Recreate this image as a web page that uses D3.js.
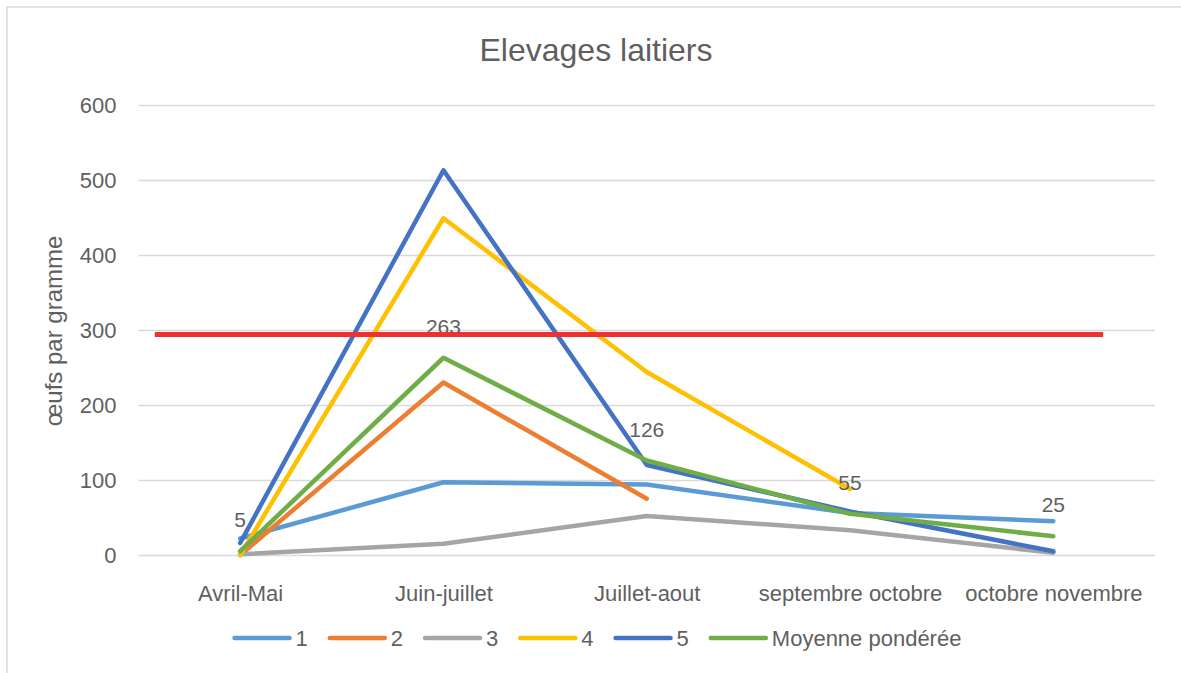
<!DOCTYPE html>
<html>
<head>
<meta charset="utf-8">
<script src="https://cdn.jsdelivr.net/npm/d3@7"></script>
<style>
  body { margin: 0; background: #fff; }
  text { font-family: "Liberation Sans", Arial, sans-serif; fill: #5f5f5f; }
</style>
</head>
<body>
<svg width="1181" height="673"></svg>
<script>
// donnees
const periodes = ['Avril-Mai', 'Juin-juillet', 'Juillet-aout', 'septembre octobre', 'octobre novembre'];
const yTicks = [0, 100, 200, 300, 400, 500, 600];

const serie1 = [22, 97, 94, 56, 45];
const serie2 = [0, 230, 75, null, null];
const serie3 = [1, 15, 52, 33, 3];
const serie4 = [0, 449, 244, 88, null];
const serie5 = [16, 513, 120, 58, 5];
const moyenne = [5, 263, 126, 55, 25];
const moyenneLabels = ['5', '263', '126', '55', '25'];

const seuil = 294;            // ligne rouge
const seuilDebut = -0.42;     // en unites de categorie
const seuilFin = 4.245;

const series = [
  {name: '1', values: serie1, color: '#5B9BD5'},
  {name: '2', values: serie2, color: '#ED7D31'},
  {name: '3', values: serie3, color: '#A5A5A5'},
  {name: '4', values: serie4, color: '#FFC000'},
  {name: '5', values: serie5, color: '#4472C4'},
  {name: 'Moyenne pondérée', values: moyenne, color: '#70AD47'}
];

const svg = d3.select('svg');

// cadre du graphique
svg.append('line').attr('x1', 7).attr('y1', 7).attr('x2', 1181).attr('y2', 7)
  .attr('stroke', '#D9D9D9').attr('stroke-width', 1.5);
svg.append('line').attr('x1', 7).attr('y1', 7).attr('x2', 7).attr('y2', 673)
  .attr('stroke', '#D9D9D9').attr('stroke-width', 1.5);

const plotLeft = 138.5, plotRight = 1155, plotTop = 105, plotBottom = 555;

const xScale = d3.scalePoint().domain(periodes).range([plotLeft, plotRight]).padding(0.5);
const xIndex = d3.scaleLinear().domain([-0.5, periodes.length - 0.5]).range([plotLeft, plotRight]);
const yScale = d3.scaleLinear().domain([0, 600]).range([plotBottom, plotTop]);

// titre
svg.append('text')
  .attr('x', 596).attr('y', 61)
  .attr('text-anchor', 'middle')
  .style('font-size', '32px')
  .text('Elevages laitiers');

// grille + axe Y
const yAxis = d3.axisLeft(yScale).tickValues(yTicks).tickSize(-(plotRight - plotLeft)).tickPadding(22);
const gy = svg.append('g').attr('transform', `translate(${plotLeft},0)`).call(yAxis);
gy.select('.domain').remove();
gy.selectAll('line').attr('stroke', '#D9D9D9').attr('stroke-width', 1.5);
gy.selectAll('text').style('font-size', '22px').attr('fill', '#5f5f5f');

// axe X (sans ligne)
const xAxis = d3.axisBottom(xScale).tickSize(0).tickPadding(30);
const gx = svg.append('g').attr('transform', `translate(0,${plotBottom})`).call(xAxis);
gx.select('.domain').remove();
gx.selectAll('text').style('font-size', '22px').attr('fill', '#5f5f5f');

// titre axe Y
svg.append('text')
  .attr('transform', 'translate(62,331) rotate(-90)')
  .attr('text-anchor', 'middle')
  .style('font-size', '24px')
  .text('œufs par gramme');

// courbes
const line = d3.line()
  .defined(d => d != null)
  .x((d, i) => xScale(periodes[i]))
  .y(d => yScale(d));

svg.append('g').selectAll('path')
  .data(series)
  .enter()
  .append('path')
  .attr('d', s => line(s.values))
  .attr('fill', 'none')
  .attr('stroke', s => s.color)
  .attr('stroke-width', 4.5)
  .attr('stroke-linecap', 'round')
  .attr('stroke-linejoin', 'round');

// etiquettes de la moyenne
svg.append('g').selectAll('text')
  .data(moyenne)
  .enter()
  .append('text')
  .attr('x', (d, i) => xScale(periodes[i]))
  .attr('y', d => yScale(d) - 24)
  .attr('text-anchor', 'middle')
  .style('font-size', '21px')
  .text((d, i) => moyenneLabels[i]);

// ligne rouge (seuil)
svg.append('line')
  .attr('x1', xIndex(seuilDebut)).attr('x2', xIndex(seuilFin))
  .attr('y1', yScale(seuil)).attr('y2', yScale(seuil))
  .attr('stroke', '#EE3030')
  .attr('stroke-width', 5);

// legende
const legend = svg.append('g');
let lx = 0;
series.forEach(s => {
  const g = legend.append('g').attr('transform', `translate(${lx},0)`);
  g.append('line').attr('x1', 0).attr('x2', 55).attr('y1', 0).attr('y2', 0)
    .attr('stroke', s.color).attr('stroke-width', 4.5).attr('stroke-linecap', 'round');
  const t = g.append('text').attr('x', 61).attr('y', 0).attr('dy', '0.36em')
    .style('font-size', '22px').text(s.name);
  lx += 61 + t.node().getComputedTextLength() + 22;
});
const legendWidth = lx - 22;
legend.attr('transform', `translate(${598 - legendWidth / 2},638)`);
</script>
</body>
</html>
